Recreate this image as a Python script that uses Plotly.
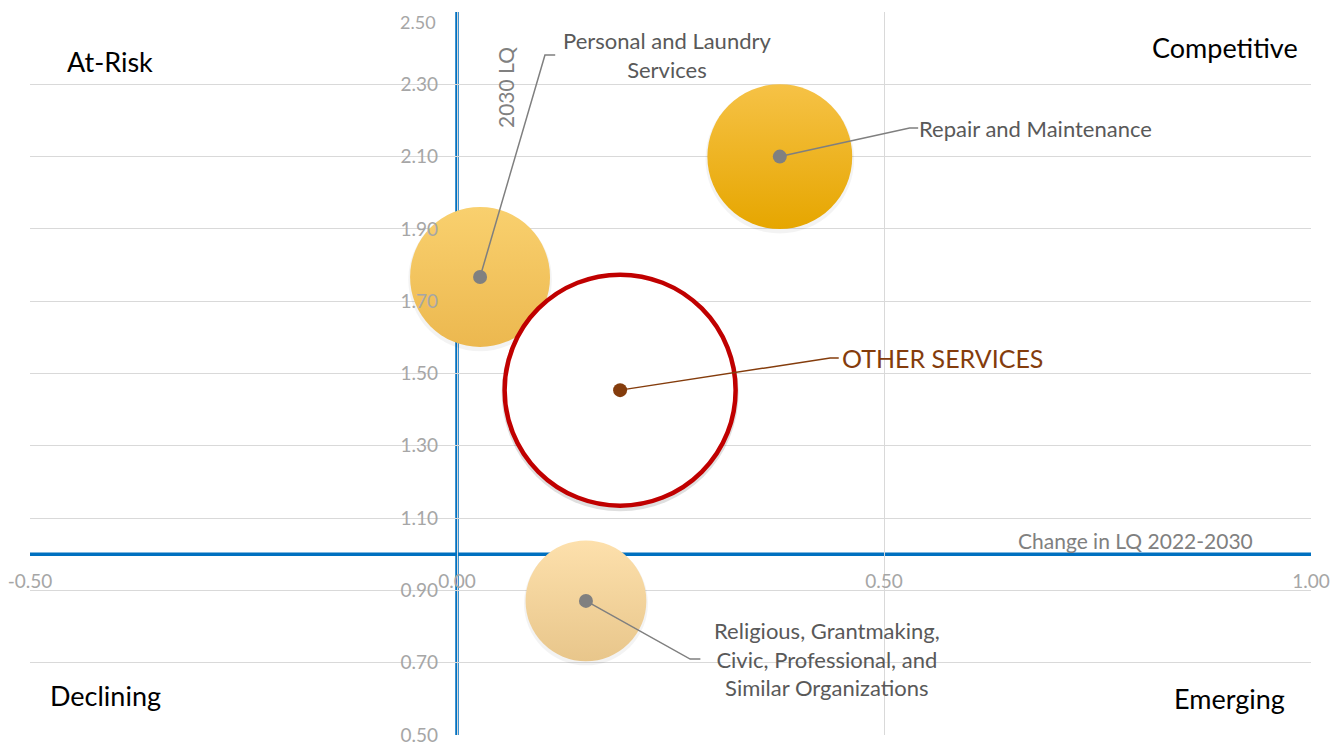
import plotly.graph_objects as go

# ---- data ----
industries = ["Repair and Maintenance", "Personal and Laundry\nServices",
              "Religious, Grantmaking,\nCivic, Professional, and\nSimilar Organizations",
              "OTHER SERVICES"]
lq_change = [0.378, 0.027, 0.151, 0.191]      # Change in LQ 2022-2030
lq_2030 = [2.10, 1.767, 0.871, 1.454]         # 2030 LQ
employment = [5250, 4900, 3650, 13350]        # bubble size (area)

x_ticks = [-0.5, 0.0, 0.5, 1.0]
y_ticks = [0.5, 0.7, 0.9, 1.1, 1.3, 1.5, 1.7, 1.9, 2.1, 2.3, 2.5]
x_range = [-0.5, 1.0]
y_range = [0.5, 2.5]
x_cross, y_cross = 0.0, 1.0   # where the quadrant axes cross

FONT = "Lato, Calibri, Carlito, 'Open Sans', sans-serif"
GREY = "#7F7F7F"
BROWN = "#843C0C"
BLUE = "#0070C0"
TICK_GREY = "#A6A6A6"

top_cols = ["#F6C246", "#F9D06E", "#FDE0AC", "#FFFFFF"]
bot_cols = ["#E6A600", "#ECB84F", "#E8C68B", "#FFFFFF"]
line_cols = ["rgba(0,0,0,0)", "rgba(0,0,0,0)", "rgba(0,0,0,0)", "#C00000"]
line_w = [0, 0, 0, 4.5]
dot_cols = ["#808080", "#808080", "#808080", BROWN]
shadow_cols = ["rgba(0,0,0,0.07)", "rgba(0,0,0,0.07)", "rgba(0,0,0,0.07)", "rgba(0,0,0,0.18)"]

# plotly area mode: diameter = sqrt(2*v/sizeref) -> largest bubble ~231 px
sizeref = 2.0 * max(employment) / 231 ** 2

fig = go.Figure()

for i in range(4):
    # soft shadow
    fig.add_trace(go.Scatter(
        x=[lq_change[i]], y=[lq_2030[i] - 0.007], mode="markers", hoverinfo="skip",
        marker=dict(size=[employment[i]], sizemode="area", sizeref=sizeref * 0.95,
                    color=shadow_cols[i], line=dict(width=0)),
        showlegend=False))
    fig.add_trace(go.Scatter(
        x=[lq_change[i]], y=[lq_2030[i]], mode="markers", name=industries[i],
        marker=dict(size=[employment[i]], sizemode="area", sizeref=sizeref,
                    color=top_cols[i],
                    gradient=dict(type="vertical", color=bot_cols[i]),
                    line=dict(color=line_cols[i], width=line_w[i]),
                    opacity=1),
        showlegend=False))

# leader lines (label anchor positions are layout, in data units)
label_elbow = [(0.530, 2.179), (0.103, 2.381), (0.273, 0.710), (0.437, 1.543)]
label_end = [(0.540, 2.179), (0.115, 2.381), (0.285, 0.710), (0.447, 1.543)]
for i in range(4):
    col = BROWN if i == 3 else GREY
    fig.add_trace(go.Scatter(
        x=[lq_change[i], label_elbow[i][0], label_end[i][0]],
        y=[lq_2030[i], label_elbow[i][1], label_end[i][1]],
        mode="lines", line=dict(color=col, width=1.5), hoverinfo="skip",
        showlegend=False))

# center dots
fig.add_trace(go.Scatter(
    x=lq_change, y=lq_2030, mode="markers", hoverinfo="skip",
    marker=dict(size=14, color=dot_cols, line=dict(width=0)), showlegend=False))

# labels
label_specs = [
    dict(x=0.539, y=2.179, xanchor="left", text="Repair and Maintenance", color="#595959", size=22),
    dict(x=0.246, y=2.381, xanchor="center", text="Personal and Laundry<br>Services", color="#595959", size=22),
    dict(x=0.433, y=0.710, xanchor="center",
         text="Religious, Grantmaking,<br>Civic, Professional, and<br>Similar Organizations",
         color="#595959", size=22),
    dict(x=0.448, y=1.543, xanchor="left", text="OTHER SERVICES", color=BROWN, size=25),
]
for s in label_specs:
    fig.add_annotation(x=s["x"], y=s["y"], xref="x", yref="y", text=s["text"],
                       xanchor=s["xanchor"], yanchor="middle", showarrow=False,
                       font=dict(family=FONT, size=s["size"], color=s["color"]),
                       align="center")

# page body has an 8px default margin: size the figure so the plot lands where intended
OFF = 8
W, H = 1341 - OFF, 746 - OFF
L, R, T, B = 30 - OFF, 30, 12 - OFF, 11
pw, ph = W - L - R, H - T - B


def px_to_paper(px, py):
    return (px - OFF - L) / pw, 1 - (py - OFF - T) / ph


quads = [("At-Risk", 110, 62), ("Competitive", 1225, 47),
         ("Declining", 105, 695), ("Emerging", 1229, 698)]
for txt, px, py in quads:
    xp, yp = px_to_paper(px, py)
    fig.add_annotation(x=xp, y=yp, xref="paper", yref="paper",
                       text=txt, showarrow=False, xanchor="center", yanchor="middle",
                       font=dict(family=FONT, size=27, color="#000000"))

# axis titles
xp, yp = px_to_paper(506, 88)
fig.add_annotation(x=xp, y=yp, xref="paper", yref="paper", xanchor="center", yanchor="middle",
                   text="2030 LQ", textangle=-90, showarrow=False,
                   font=dict(family=FONT, size=21, color="#808080"))
xp, yp = px_to_paper(1135, 540)
fig.add_annotation(x=xp, y=yp, xref="paper", yref="paper", xanchor="center", yanchor="middle",
                   text="Change in LQ 2022-2030", showarrow=False,
                   font=dict(family=FONT, size=21, color="#808080"))

# blue quadrant axes drawn beneath the bubbles
fig.add_shape(type="line", xref="x", yref="y", x0=x_cross, x1=x_cross,
              y0=y_range[0], y1=y_range[1], line=dict(color=BLUE, width=3.5), layer="below")
fig.add_shape(type="line", xref="x", yref="y", x0=x_range[0], x1=x_range[1],
              y0=y_cross, y1=y_cross, line=dict(color=BLUE, width=3.5), layer="below")

# the top y tick label sits on the figure's edge: draw it nudged inside as an annotation
y_ticktext = [f"{v:.2f}" for v in y_ticks]
top_label = y_ticktext[-1]
y_ticktext[-1] = ""
fig.add_annotation(x=x_cross, y=y_ticks[-1], xref="x", yref="y", text=top_label,
                   xanchor="right", yanchor="top", xshift=-19, yshift=3,
                   showarrow=False, font=dict(family=FONT, size=18, color=TICK_GREY))

fig.update_xaxes(range=x_range, tickvals=x_ticks,
                 ticktext=[f"{v:.2f}" for v in x_ticks],
                 showgrid=True, gridcolor="#D9D9D9", gridwidth=1.3,
                 zeroline=False, showline=False,
                 anchor="free", position=(y_cross - y_range[0]) / (y_range[1] - y_range[0]),
                 ticks="", ticklabelstandoff=14, ticklabeloverflow="allow",
                 tickfont=dict(family=FONT, size=19, color=TICK_GREY),
                 layer="above traces", automargin=False)
fig.update_yaxes(range=y_range, tickvals=y_ticks, ticktext=y_ticktext,
                 showgrid=True, gridcolor="#D9D9D9", gridwidth=1.3,
                 zeroline=False, showline=False,
                 anchor="free", position=(x_cross - x_range[0]) / (x_range[1] - x_range[0]),
                 ticks="", ticklabelstandoff=19, ticklabeloverflow="allow",
                 tickfont=dict(family=FONT, size=19, color=TICK_GREY),
                 layer="above traces", automargin=False)

fig.update_layout(width=W, height=H, margin=dict(l=L, r=R, t=T, b=B, autoexpand=False),
                  paper_bgcolor="white", plot_bgcolor="white",
                  font=dict(family=FONT), showlegend=False)

fig.write_html("out.html")
